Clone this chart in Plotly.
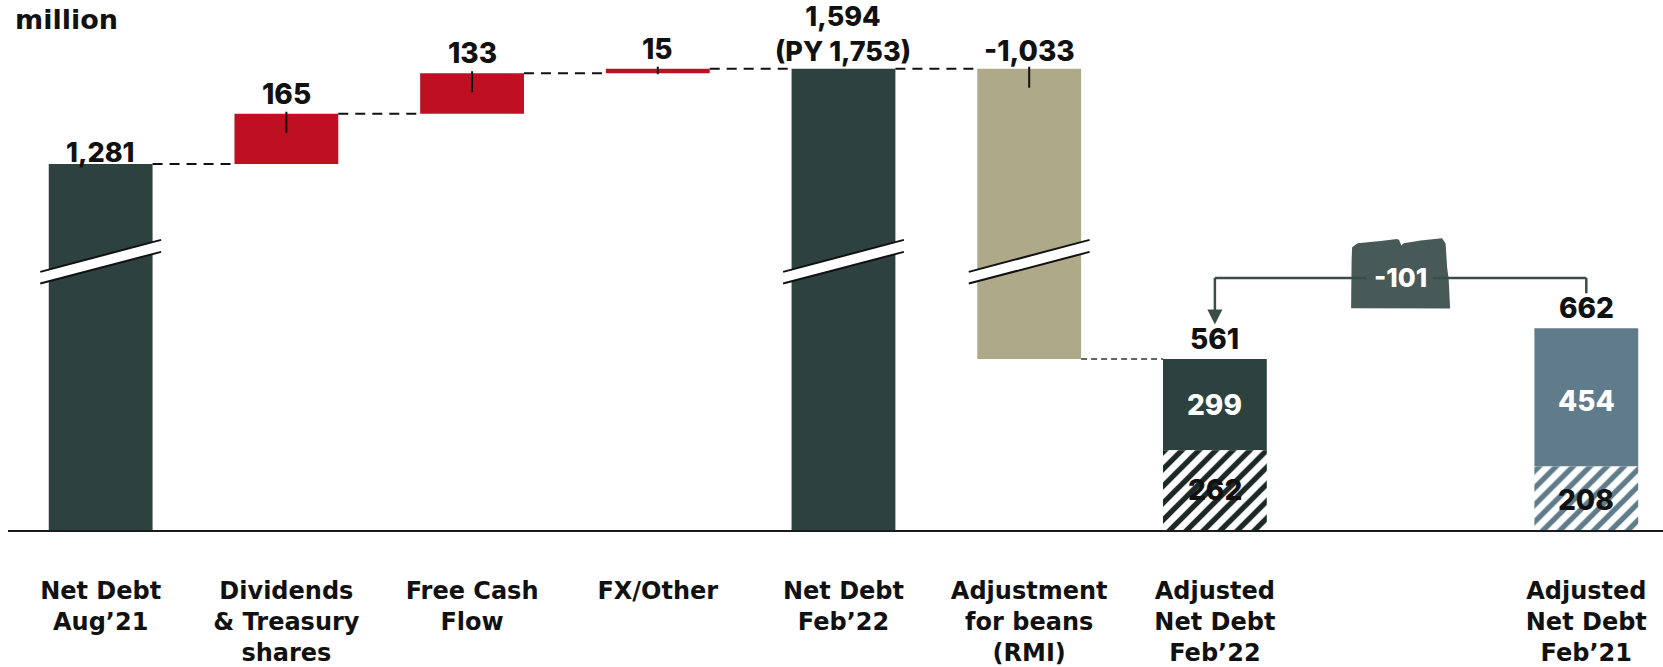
import numpy as np
import plotly.graph_objects as go

# ---------------- data (million) ----------------
categories = ["Net Debt<br>Aug’21", "Dividends<br>& Treasury<br>shares", "Free Cash<br>Flow",
              "FX/Other", "Net Debt<br>Feb’22", "Adjustment<br>for beans<br>(RMI)",
              "Adjusted<br>Net Debt<br>Feb’22", "Adjusted<br>Net Debt<br>Feb’21"]
category_slots = [0, 1, 2, 3, 4, 5, 6, 8]
opening_net_debt = 1281          # Net Debt Aug'21
movements = [165, 133, 15]       # dividends & treasury, free cash flow, FX/other
prior_year_net_debt = 1753
rmi_adjustment = -1033
adj_feb22_parts = [299, 262]     # solid part, hatched part
adj_feb21_parts = [454, 208]     # solid part, hatched part

# ---------------- derived values ----------------
levels = opening_net_debt + np.cumsum(movements)
closing_net_debt = int(levels[-1])
adjusted_feb22 = closing_net_debt + rmi_adjustment
adjusted_feb21 = sum(adj_feb21_parts)
delta = adjusted_feb22 - adjusted_feb21

# ---------------- layout / style ----------------
W, H = 1663, 667
MARGIN = dict(l=8, r=0, t=12, b=137)
Y_MAX = 1700
X_RANGE = [-0.499, 8.413]
BAR_W = 0.559
BREAK_AT, GAP = 880, 80          # broken value axis: values above BREAK_AT are shifted down by GAP

DARK = "#2d413f"
RED = "#be0f23"
KHAKI = "#aea988"
SLATE = "#607c8a"
BADGE = "#485a58"
LINE = "#3b4d4a"
INK = "#111111"
FONT_NUM = "Inter"
FONT_CAT = "DejaVu Sans"

ppu_y = (H - MARGIN["t"] - MARGIN["b"]) / Y_MAX
ppu_x = (W - MARGIN["l"] - MARGIN["r"]) / (X_RANGE[1] - X_RANGE[0])


def py(px):
    return px / ppu_y


def px_x(px):
    return px / ppu_x


def disp(v):
    v = np.asarray(v, dtype=float)
    return np.where(v > BREAK_AT, v - GAP, v)


def fmt(v):
    return f"{v:,.0f}"


fig = go.Figure()

# ---------------- bars ----------------
bar_slots = [0, 1, 2, 3, 4, 5, 6, 8]
bottoms = [0, opening_net_debt, *levels[:-1], 0, adjusted_feb22, adj_feb22_parts[1], adj_feb21_parts[1]]
tops = [opening_net_debt, *levels, closing_net_debt, closing_net_debt, adjusted_feb22, adjusted_feb21]
colors = [DARK, RED, RED, RED, DARK, KHAKI, DARK, SLATE]
base = disp(bottoms)
height = disp(tops) - base

fig.add_trace(go.Bar(x=bar_slots, y=height, base=base, width=BAR_W,
                     marker=dict(color=colors, line=dict(width=0)), hoverinfo="skip"))

for slot, val, stripe in [(6, adj_feb22_parts[1], "#1c2826"), (8, adj_feb21_parts[1], SLATE)]:
    fig.add_trace(go.Bar(x=[slot], y=[val], base=[0], width=BAR_W, hoverinfo="skip",
                         marker=dict(color="white", line=dict(width=0),
                                     pattern=dict(shape="/", size=12, solidity=0.45,
                                                  fgcolor=stripe, bgcolor="white", fillmode="replace"))))

shapes = []

# ---------------- axis break marks ----------------
for slot, lo, hi in zip(bar_slots, bottoms, tops):
    if lo < BREAK_AT < hi:
        xl, xr = slot - px_x(60.4), slot + px_x(60.4)
        yb = BREAK_AT
        shapes.append(dict(type="path", xref="x", yref="y", layer="above",
                           path=f"M {xl},{yb + py(-10)} L {xr},{yb + py(22)} L {xr},{yb + py(10)} L {xl},{yb + py(-21.7)} Z",
                           fillcolor="white", line=dict(width=0)))
        for a, b in [(-10, 22), (-21.7, 10)]:
            shapes.append(dict(type="line", xref="x", yref="y", layer="above",
                               x0=xl, x1=xr, y0=yb + py(a), y1=yb + py(b),
                               line=dict(color=INK, width=2)))

# ---------------- small ticks on movement bars ----------------
for slot, lo, hi in zip(bar_slots, bottoms, tops):
    if slot in (1, 2, 3, 5):
        top = float(disp(hi))
        bar_px = abs(float(disp(hi) - disp(lo))) * ppu_y
        shapes.append(dict(type="line", xref="x", yref="y", layer="above",
                           x0=slot, x1=slot, y0=top + py(2), y1=top - py(min(19, bar_px + 1)),
                           line=dict(color=INK, width=2)))

# ---------------- dashed connectors ----------------
connectors = [(0, 1, opening_net_debt), (1, 2, levels[0]), (2, 3, levels[1]),
              (3, 4, levels[2]), (4, 5, closing_net_debt)]
for a, b, lvl in connectors:
    y = float(disp(lvl))
    shapes.append(dict(type="line", xref="x", yref="y", layer="above",
                       x0=a + BAR_W / 2, x1=b - BAR_W / 2 - px_x(3), y0=y, y1=y,
                       line=dict(color=INK, width=2, dash="10px,7px")))
y = float(disp(adjusted_feb22))
shapes.append(dict(type="line", xref="x", yref="y", layer="above",
                   x0=5 + BAR_W / 2, x1=6 - BAR_W / 2, y0=y, y1=y,
                   line=dict(color="#333333", width=1.5, dash="6px,4px")))

# ---------------- bracket comparing adjusted net debt ----------------
y21 = float(disp(adjusted_feb21))
y22 = float(disp(adjusted_feb22))
yb = y21 + py(50.4)
badge_c = yb + py(4.3)
badge_pts = [(-49.5, -34.7), (-49, 13), (-48.5, 26.3), (-43, 30.3), (-20, 32.5), (-3.5, 34.7),
             (-1.5, 33.5), (0.8, 28), (3, 30.3), (20, 33), (41.5, 35.3), (45, 30),
             (46.5, 6.3), (48, -5), (48.5, -13.7), (49.5, -35)]
badge_path = "M " + " L ".join(f"{7 + px_x(dx)},{badge_c + py(dy)}" for dx, dy in badge_pts) + " Z"
shapes.append(dict(type="path", xref="x", yref="y", layer="above", path=badge_path,
                   fillcolor=BADGE, line=dict(width=0)))

tip = y22 + py(34.5)
bracket_lines = [
    (6, 6, tip + py(14), yb),
    (6, 7 - px_x(34), yb, yb),
    (7 + px_x(32.5), 8, yb, yb),
    (8, 8, yb, y21 + py(35)),
]
for x0, x1, y0, y1 in bracket_lines:
    shapes.append(dict(type="line", xref="x", yref="y", layer="above",
                       x0=x0, x1=x1, y0=y0, y1=y1, line=dict(color=LINE, width=2.5)))
shapes.append(dict(type="path", xref="x", yref="y", layer="above",
                   path=f"M {6 - px_x(7.5)},{tip + py(15)} L {6 + px_x(7.5)},{tip + py(15)} L 6,{tip} Z",
                   fillcolor=LINE, line=dict(width=0)))

# ---------------- value labels ----------------
annotations = []


def label(x, y, text, shift, color=INK, size=28):
    annotations.append(dict(x=x, y=y, xref="x", yref="y", text=text, showarrow=False,
                            yanchor="middle", xanchor="center", yshift=shift,
                            font=dict(family=FONT_NUM, size=size, color=color, weight=800)))


label(0, float(disp(opening_net_debt)), fmt(opening_net_debt), 12, size=27)
for slot, mv, lvl in zip([1, 2, 3], movements, levels):
    label(slot, float(disp(lvl)), fmt(mv), 20)
label(4, float(disp(closing_net_debt)), f"{fmt(closing_net_debt)}<br>(PY {fmt(prior_year_net_debt)})", 35, size=27)
label(5, float(disp(closing_net_debt)), fmt(rmi_adjustment), 18)
label(6, y22, fmt(adjusted_feb22), 20)
label(8, y21, fmt(adjusted_feb21), 20)

label(6, (adj_feb22_parts[1] + adjusted_feb22) / 2, fmt(adj_feb22_parts[0]), 0, "white")
label(6, adj_feb22_parts[1] / 2, fmt(adj_feb22_parts[1]), 0)
label(8, (adj_feb21_parts[1] + adjusted_feb21) / 2, fmt(adj_feb21_parts[0]), -4, "white")
label(8, adj_feb21_parts[1] / 2, fmt(adj_feb21_parts[1]), -2)
label(7, yb, fmt(delta), 0, "white", 26)

annotations.append(dict(x=0, y=1, xref="paper", yref="paper", text="million", showarrow=False,
                        xanchor="left", yanchor="middle", xshift=5, yshift=-7,
                        font=dict(family=FONT_CAT, size=27, color=INK, weight="bold")))

fig.update_layout(
    width=W, height=H, margin=MARGIN, barmode="overlay", showlegend=False,
    paper_bgcolor="white", plot_bgcolor="white",
    shapes=shapes, annotations=annotations,
    xaxis=dict(range=X_RANGE, tickvals=category_slots, ticktext=categories, ticks="",
               showgrid=False, zeroline=False, showline=True, linecolor="#1a1a1a", linewidth=2,
               ticklabelstandoff=38,
               tickfont=dict(family=FONT_CAT, size=24, color=INK, weight="bold")),
    yaxis=dict(range=[0, Y_MAX], visible=False),
)

fig.write_html("out.html")
